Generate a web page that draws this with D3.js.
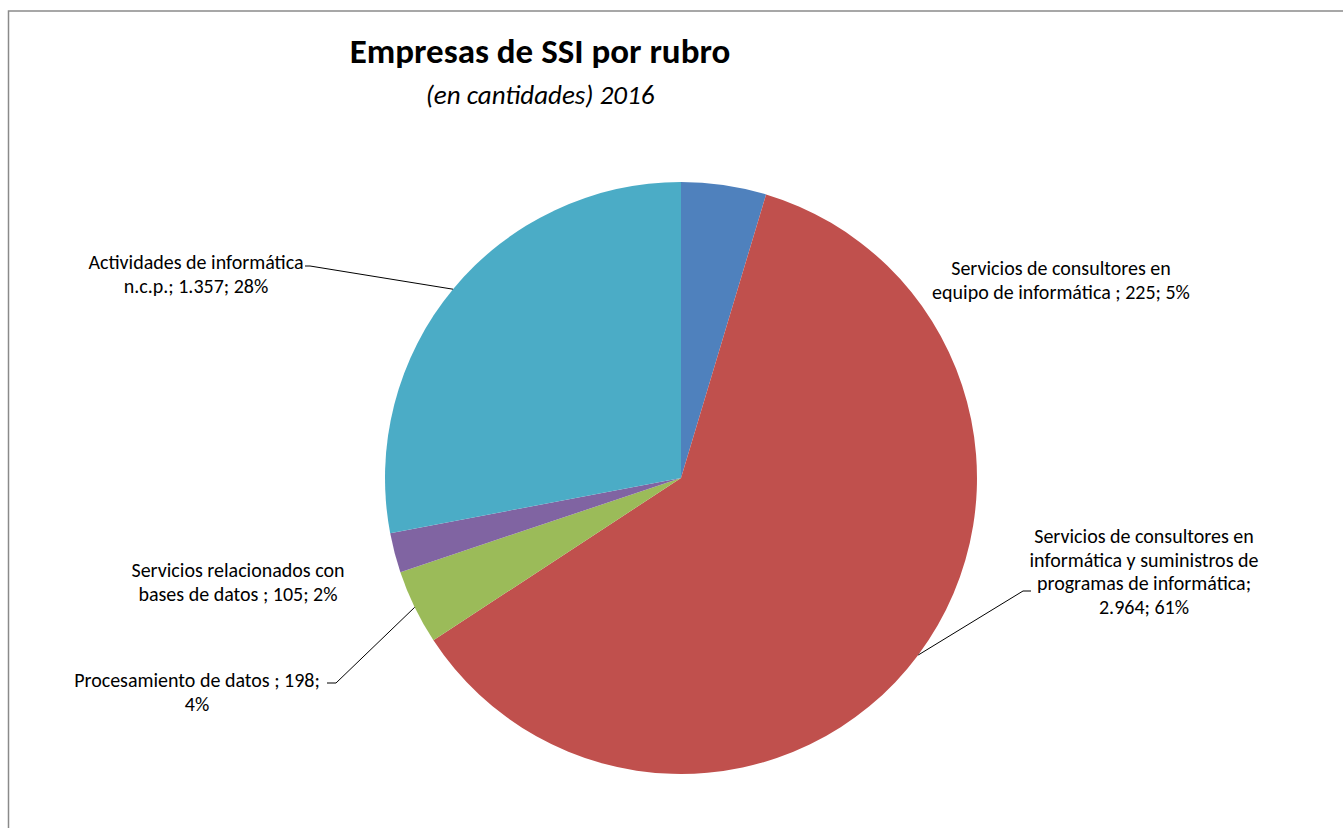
<!DOCTYPE html>
<html><head><meta charset="utf-8">
<script src="https://cdn.jsdelivr.net/npm/d3@7"></script>
<style>body{margin:0;background:#fff}svg{display:block}</style>
</head><body>
<svg id="c" width="1343" height="828"></svg>
<script>
const categories = [
  "Servicios de consultores en equipo de informática",
  "Servicios de consultores en informática y suministros de programas de informática",
  "Procesamiento de datos",
  "Servicios relacionados con bases de datos",
  "Actividades de informática n.c.p."
];
const values = [225, 2964, 198, 105, 1357];
const valueLabels = ["225", "2.964", "198", "105", "1.357"];
const percentLabels = ["5%", "61%", "4%", "2%", "28%"];
const labelLines = [
  ["Servicios de consultores en", "equipo de informática ; 225; 5%"],
  ["Servicios de consultores en", "informática y suministros de", "programas de informática;", "2.964; 61%"],
  ["Procesamiento de datos ; 198;", "4%"],
  ["Servicios relacionados con", "bases de datos ; 105; 2%"],
  ["Actividades de informática", "n.c.p.; 1.357; 28%"]
];
const colors = ["#4F81BD", "#C0504D", "#9BBB59", "#8064A2", "#4BACC6"];

const svg = d3.select("#c");
const font = "Carlito, Lato, 'Open Sans', sans-serif";
svg.append("rect").attr("width",1343).attr("height",828).attr("fill","#fff");
svg.append("rect").attr("x",8.5).attr("y",11).attr("width",1400).attr("height",900)
  .attr("fill","none").attr("stroke","#8a8a8a").attr("stroke-width",1.5);

svg.append("text").attr("x",540).attr("y",63).attr("text-anchor","middle")
  .attr("font-family",font).attr("font-weight","bold").attr("font-size",35).attr("fill","#000")
  .text("Empresas de SSI por rubro");
svg.append("text").attr("x",540).attr("y",104).attr("text-anchor","middle")
  .attr("font-family",font).attr("font-style","italic").attr("font-size",27).attr("fill","#000")
  .text("(en cantidades) 2016");

const cx = 681, cy = 478, R = 296;
const g = svg.append("g").attr("transform",`translate(${cx},${cy})`);
const pie = d3.pie().sort(null).value(d=>d)(values);
const arc = d3.arc().innerRadius(0).outerRadius(R);
g.selectAll("path").data(pie).join("path").attr("d",arc).attr("fill",(d,i)=>colors[i]);

// label positions (center x, first baseline y)
const labelPos = [
  {x:1061, y:275},
  {x:1144, y:543},
  {x:197, y:687},
  {x:238, y:577},
  {x:196, y:269}
];
const lineH = 23.5;
const leaders = {
  1: {elbow:[1023,591], end:[1031,591]},
  2: {elbow:[336,683], end:[327,683]},
  4: {elbow:[310,266], end:[305,266]}
};
Object.entries(leaders).forEach(([k,v])=>{
  const d = pie[+k];
  const a = (d.startAngle+d.endAngle)/2;
  const p = [cx + R*Math.sin(a), cy - R*Math.cos(a)];
  svg.append("polyline").attr("points",[p,v.elbow,v.end].map(q=>q.join(",")).join(" "))
    .attr("fill","none").attr("stroke","#000").attr("stroke-width",1);
});
labelLines.forEach((lines,i)=>{
  const t = svg.append("text").attr("text-anchor","middle").attr("font-family",font)
    .attr("font-size",20).attr("fill","#000");
  lines.forEach((l,j)=>t.append("tspan").attr("x",labelPos[i].x).attr("y",labelPos[i].y+j*lineH).text(l));
});
</script>
</body></html>
